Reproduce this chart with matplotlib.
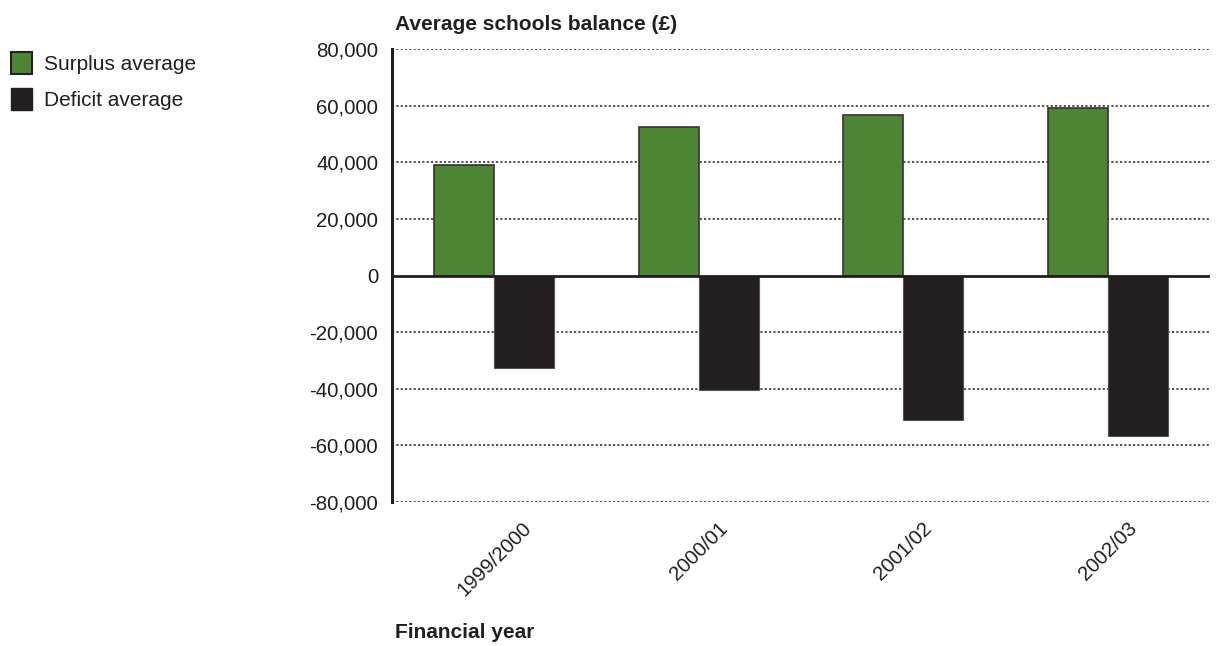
import matplotlib
matplotlib.use("Agg")
import matplotlib.pyplot as plt
from matplotlib.patches import Patch
import numpy as np

years = ["1999/2000", "2000/01", "2001/02", "2002/03"]
surplus = [39200, 52500, 56800, 59000]
deficit = [-32800, -40600, -51000, -56700]
yticks = [80000, 60000, 40000, 20000, 0, -20000, -40000, -60000, -80000]

plt.rcParams['font.family'] = ['Liberation Sans', 'DejaVu Sans']

fig = plt.figure(figsize=(12.23, 6.46), dpi=100)
ax = fig.add_axes([392/1223, 1-502/646, (1210-392)/1223, (502-49)/646])

x = np.arange(len(years))
w = 0.293
green = '#4e8535'
dark = '#231f20'
ax.bar(x - w/2, surplus, w, color=green, edgecolor='#333333', linewidth=1.2, zorder=3)
ax.bar(x + w/2, deficit, w, color=dark, edgecolor='#555555', linewidth=0.8, zorder=3)

ax.set_xlim(-0.5, 3.5)
ax.set_ylim(-80000, 80000)
ax.set_yticks(yticks)
ax.set_yticklabels([f"{v:,}" for v in yticks], fontsize=14.7, color='#231f20')
ax.set_xticks(x)
ax.set_xticklabels(years, rotation=45, ha='center', fontsize=14.7, color='#231f20')
ax.tick_params(axis='both', length=0)
ax.tick_params(axis='y', pad=10)
ax.tick_params(axis='x', pad=12)

for v in yticks:
    if v != 0:
        ax.axhline(v, color='#333333', linestyle=(0, (1.3, 1.3)), linewidth=1.2, zorder=1)
ax.axhline(0, color='#231f20', linewidth=2, zorder=4)

for s in ['top', 'right', 'bottom']:
    ax.spines[s].set_visible(False)
ax.spines['left'].set_linewidth(2.2)
ax.spines['left'].set_color('#231f20')

fig.text(395/1223, 1-24/646, "Average schools balance (£)", fontsize=15, fontweight='bold',
         color='#231f20', va='center', ha='left')
fig.text(395/1223, 1-633/646, "Financial year", fontsize=15, fontweight='bold',
         color='#231f20', va='center', ha='left')

handles = [Patch(facecolor=green, edgecolor='#222222', linewidth=1.5, label='Surplus average'),
           Patch(facecolor=dark, edgecolor=dark, label='Deficit average')]
fig.legend(handles=handles, loc='upper left', bbox_to_anchor=(-0.001, 1-40/646),
           frameon=False, fontsize=15, handlelength=1.0, handleheight=1.2,
           handletextpad=0.55, labelspacing=0.68, borderaxespad=0.2,
           labelcolor='#231f20')

fig.savefig("out.png", dpi=100)
